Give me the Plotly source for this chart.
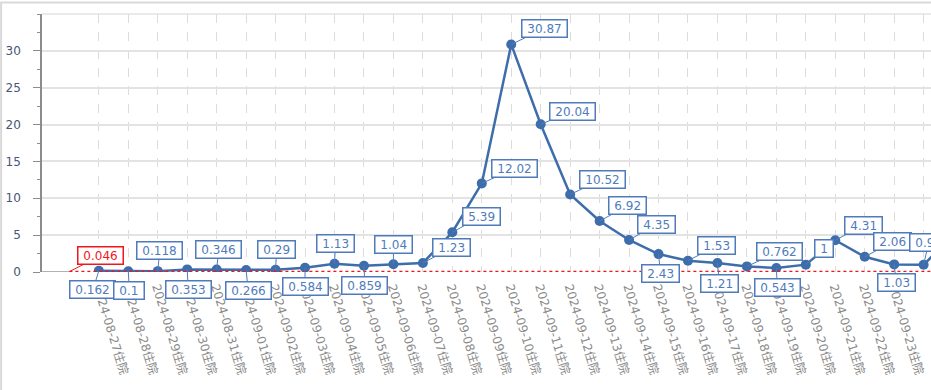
import plotly.graph_objects as go

categories = [
    "2024-08-27住院", "2024-08-28住院", "2024-08-29住院", "2024-08-30住院",
    "2024-08-31住院", "2024-09-01住院", "2024-09-02住院", "2024-09-03住院",
    "2024-09-04住院", "2024-09-05住院", "2024-09-06住院", "2024-09-07住院",
    "2024-09-08住院", "2024-09-09住院", "2024-09-10住院", "2024-09-11住院",
    "2024-09-12住院", "2024-09-13住院", "2024-09-14住院", "2024-09-15住院",
    "2024-09-16住院", "2024-09-17住院", "2024-09-18住院", "2024-09-19住院",
    "2024-09-20住院", "2024-09-21住院", "2024-09-22住院", "2024-09-23住院",
    "本次住院", "本次住院(2)",
]
values = [
    0.162, 0.1, 0.118, 0.353, 0.346, 0.266, 0.29, 0.584, 1.13, 0.859,
    1.04, 1.23, 5.39, 12.02, 30.87, 20.04, 10.52, 6.92, 4.35, 2.43,
    1.53, 1.21, 0.762, 0.543, 1, 4.31, 2.06, 1.03, 0.98, 5.0,
]
threshold = 0.046

y_ticks = [0, 5, 10, 15, 20, 25, 30]

# label offsets in pixels (style/layout only)
label_offsets = [
    (-6, 19), (1, 19), (2, -21), (1, 20), (2, -20), (2, 20), (1, -20), (0, 19),
    (1, -20), (1, 20), (0, -20), (29, -15), (29, -16), (33, -15), (33, -16),
    (32, -13), (32, -15), (28, -15), (27, -15), (2, 19), (29, -15), (2, 20),
    (33, -15), (1, 19), (18, -16), (28, -15), (28, -15), (2, 18), (5, -22),
    (28, -15),
]

BLUE = "#3d6dab"
LBL = "#4f7bbd"
RED = "#f0161c"
FONT = "DejaVu Sans, Noto Sans CJK SC, sans-serif"

x_idx = list(range(len(categories)))
x_min, x_max = -1.93, 28.25

fig = go.Figure()
fig.add_trace(go.Scatter(
    x=x_idx, y=values, mode="lines+markers",
    line=dict(color=BLUE, width=2.5),
    marker=dict(color=BLUE, size=10),
    hoverinfo="skip", showlegend=False, cliponaxis=True,
))

shapes = [
    # frame around the chart container
    dict(type="rect", xref="paper", yref="paper", x0=-0.046, x1=1.2,
         y0=-1.0, y1=1.0445, line=dict(color="#d9d9d9", width=2), layer="below"),
    # x axis line (gray part left of the threshold line start)
    dict(type="line", xref="x", yref="y", x0=x_min, x1=-1, y0=0, y1=0,
         line=dict(color="#999999", width=1.5), layer="above"),
    # threshold mark line
    dict(type="line", xref="x", yref="y", x0=-1, x1=len(categories) + 2,
         y0=threshold, y1=threshold, line=dict(color=RED, width=2, dash="dot"),
         layer="above"),
]

annotations = []
for i, (v, off) in enumerate(zip(values, label_offsets)):
    annotations.append(dict(
        x=i, y=v, xref="x", yref="y",
        text="\u00a0" + f"{v:g}" + "\u00a0",
        showarrow=True, arrowhead=0, arrowwidth=1, arrowcolor=LBL,
        ax=off[0], ay=off[1], standoff=0,
        font=dict(family=FONT, size=12, color=LBL),
        bgcolor="white", bordercolor=LBL, borderwidth=1.5, borderpad=1,
    ))
annotations.append(dict(
    x=-1, y=threshold, xref="x", yref="y",
    text="\u00a0" + f"{threshold:g}" + "\u00a0",
    showarrow=True, arrowhead=0, arrowwidth=1, arrowcolor=RED,
    ax=31, ay=-16, standoff=0,
    font=dict(family=FONT, size=12, color=RED),
    bgcolor="white", bordercolor=RED, borderwidth=1.5, borderpad=1,
))

fig.update_layout(
    width=931, height=390,
    margin=dict(l=42, r=0, t=14, b=118),
    paper_bgcolor="white", plot_bgcolor="white",
    font=dict(family=FONT),
    shapes=shapes, annotations=annotations,
    xaxis=dict(
        range=[x_min, x_max], tickmode="array", tickvals=x_idx, ticktext=categories,
        tickangle=73, tickfont=dict(size=12, color="#8a8a8a", family=FONT),
        showgrid=True, gridcolor="#dcdcdc", griddash="dash", gridwidth=1,
        showline=False,
        ticks="", zeroline=False, ticklabelstandoff=5,
    ),
    yaxis=dict(
        range=[0, 35], tickmode="array", tickvals=y_ticks,
        tickfont=dict(size=12, color="#4a5578", family=FONT),
        showgrid=True, gridcolor="#e3e3e3", gridwidth=1.5,
        showline=True, linecolor="#8c8c8c", linewidth=1.5,
        ticks="outside", ticklen=7, tickcolor="#8c8c8c", tickwidth=1,
        minor=dict(dtick=2.5, tick0=0, ticks="outside", ticklen=3,
                   tickcolor="#8c8c8c", showgrid=False),
        zeroline=False, ticklabelstandoff=10,
    ),
)
fig.add_shape(type="line", xref="paper", yref="paper", x0=0, x1=1, y0=1, y1=1,
              line=dict(color="#e3e3e3", width=1.5), layer="below")

fig.write_html("out.html")
